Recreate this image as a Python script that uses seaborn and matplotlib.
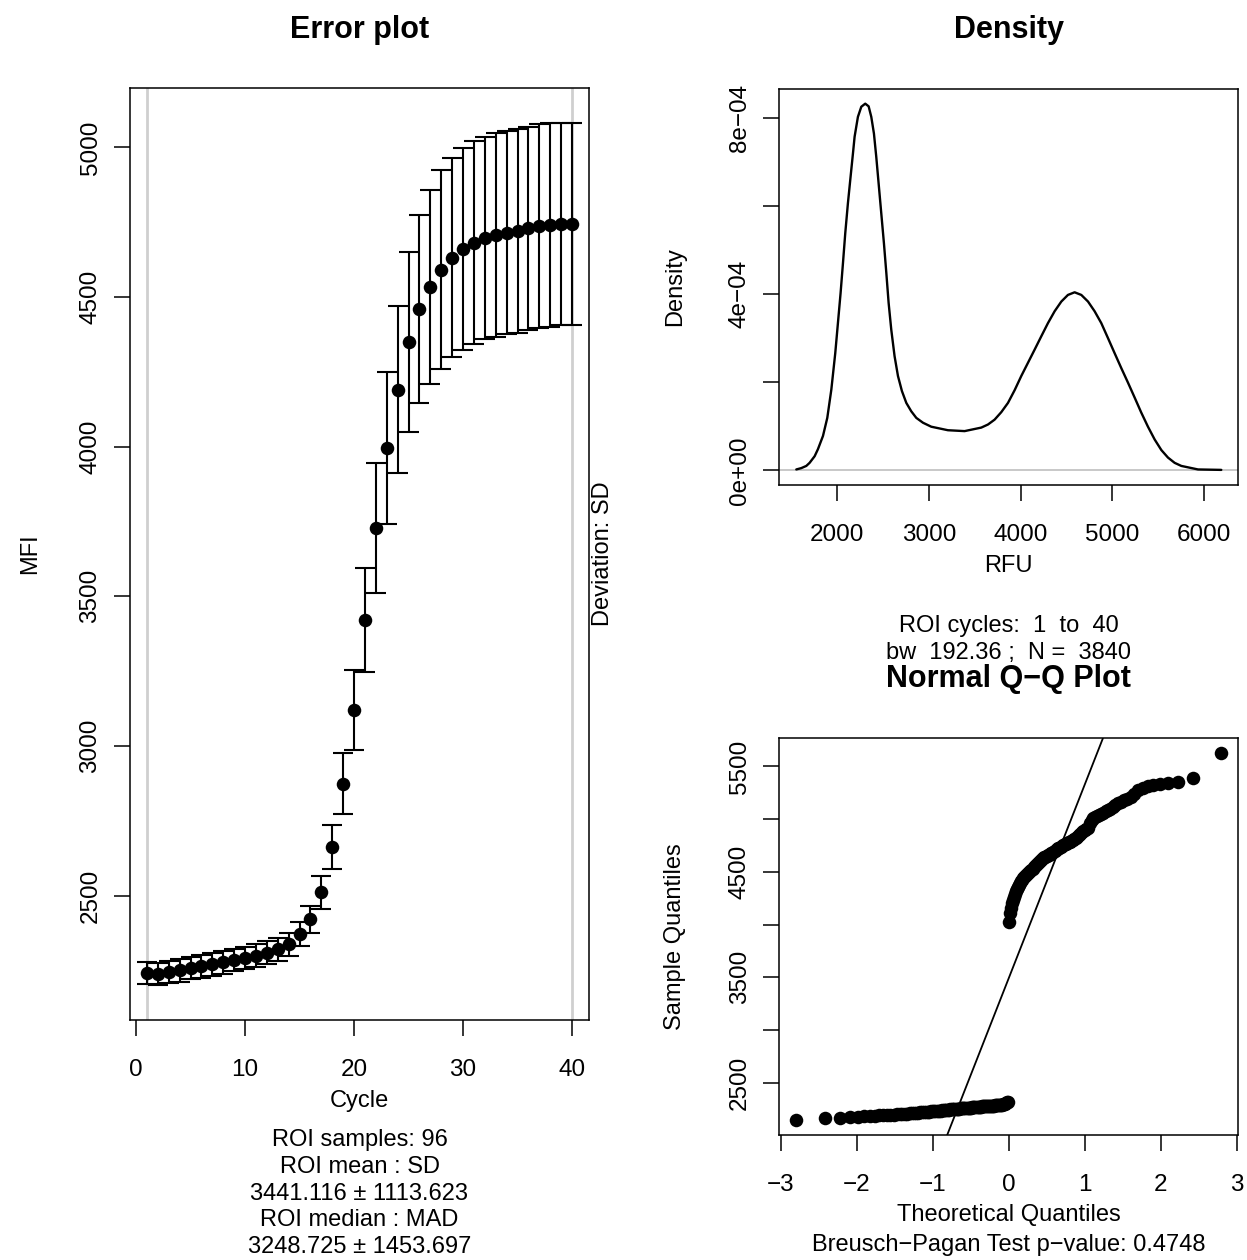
import matplotlib
matplotlib.use("Agg")
import matplotlib.pyplot as plt
import numpy as np
import pandas as pd
import seaborn as sns
from statistics import NormalDist

# ---------------- data ----------------
cycles = list(range(1, 41))
mfi_mean = [2242, 2238, 2245, 2251, 2258, 2264, 2271, 2278, 2285, 2292,
            2300, 2309, 2321, 2338, 2371, 2421, 2512, 2663, 2874, 3120,
            3421, 3727, 3997, 4191, 4349, 4460, 4534, 4591, 4632, 4660,
            4682, 4698, 4708, 4715, 4721, 4730, 4737, 4741, 4744, 4744]
mfi_sd = [38, 38, 38, 38, 38, 38, 38, 38, 38, 38,
          38, 38, 38, 38, 40, 45, 55, 73, 102, 134,
          175, 217, 254, 280, 301, 313, 325, 332, 334, 337,
          338, 337, 340, 339, 340, 339, 341, 341, 339, 339]

density_rfu = [1553, 1607, 1662, 1698, 1753, 1789, 1844, 1891, 1935, 1978,
               2007, 2036, 2062, 2087, 2116, 2145, 2171, 2189, 2225, 2262,
               2305, 2342, 2371, 2400, 2425, 2451, 2480, 2509, 2535, 2560,
               2589, 2625, 2662, 2705, 2753, 2807, 2862, 2935, 3025, 3207,
               3389, 3571, 3644, 3716, 3789, 3862, 3935, 4007, 4080, 4153,
               4225, 4298, 4371, 4444, 4516, 4589, 4662, 4735, 4807, 4880,
               4953, 5025, 5098, 5171, 5244, 5316, 5389, 5462, 5535, 5607,
               5680, 5753, 5935, 6189]
density_val = [0.02e-4, 0.05e-4, 0.10e-4, 0.17e-4, 0.32e-4, 0.48e-4, 0.78e-4, 1.19e-4, 1.83e-4, 2.66e-4,
               3.34e-4, 4.02e-4, 4.70e-4, 5.38e-4, 6.06e-4, 6.66e-4, 7.19e-4, 7.57e-4, 8.02e-4, 8.25e-4,
               8.32e-4, 8.26e-4, 8.02e-4, 7.64e-4, 7.12e-4, 6.51e-4, 5.83e-4, 5.15e-4, 4.48e-4, 3.80e-4,
               3.19e-4, 2.59e-4, 2.14e-4, 1.80e-4, 1.53e-4, 1.34e-4, 1.19e-4, 1.08e-4, 0.99e-4, 0.91e-4,
               0.89e-4, 0.97e-4, 1.04e-4, 1.15e-4, 1.32e-4, 1.53e-4, 1.82e-4, 2.14e-4, 2.44e-4, 2.74e-4,
               3.04e-4, 3.34e-4, 3.61e-4, 3.83e-4, 3.98e-4, 4.04e-4, 3.98e-4, 3.83e-4, 3.61e-4, 3.34e-4,
               3.00e-4, 2.66e-4, 2.32e-4, 1.99e-4, 1.65e-4, 1.31e-4, 0.99e-4, 0.70e-4, 0.46e-4, 0.29e-4,
               0.17e-4, 0.10e-4, 0.02e-4, 0.01e-4]

qq_sample = [2143, 2162, 2169, 2174, 2178, 2181, 2184, 2186, 2189, 2191,
             2193, 2195, 2197, 2199, 2201, 2203, 2205, 2207, 2209, 2211,
             2213, 2215, 2217, 2218, 2220, 2221, 2223, 2224, 2226, 2227,
             2229, 2230, 2232, 2233, 2235, 2236, 2238, 2239, 2241, 2242,
             2244, 2245, 2247, 2248, 2249, 2250, 2251, 2252, 2253, 2254,
             2255, 2256, 2257, 2258, 2259, 2260, 2261, 2262, 2263, 2264,
             2265, 2266, 2267, 2268, 2269, 2270, 2271, 2272, 2273, 2274,
             2275, 2276, 2277, 2278, 2278, 2279, 2280, 2280, 2281, 2282,
             2282, 2283, 2284, 2284, 2285, 2286, 2287, 2288, 2290, 2292,
             2295, 2298, 2302, 2307, 2312, 2318,
             4020, 4110, 4160, 4200, 4235, 4265, 4290, 4315, 4340, 4360,
             4378, 4395, 4410, 4425, 4437, 4448, 4458, 4468, 4478, 4488,
             4500, 4510, 4520, 4530, 4542, 4555, 4567, 4578, 4588, 4596,
             4604, 4612, 4620, 4628, 4636, 4643, 4650, 4656, 4662, 4668,
             4675, 4683, 4690, 4698, 4705, 4713, 4722, 4730, 4738, 4747,
             4753, 4760, 4767, 4773, 4780, 4786, 4793, 4800, 4810, 4820,
             4830, 4845, 4860, 4875, 4890, 4900, 4910, 4920, 4960, 4995,
             5010, 5020, 5030, 5040, 5050, 5062, 5075, 5088, 5100, 5115,
             5130, 5148, 5165, 5180, 5195, 5210, 5240, 5275, 5295, 5310,
             5325, 5335, 5345, 5352, 5390, 5627]

err_xticks = [0, 10, 20, 30, 40]
err_yticks = [2500, 3000, 3500, 4000, 4500, 5000]
dens_xticks = [2000, 3000, 4000, 5000, 6000]
dens_yticks = [0, 2e-4, 4e-4, 6e-4, 8e-4]
dens_ylabels = ["0e+00", "", "4e\u221204", "", "8e\u221204"]
qq_xticks = [-3, -2, -1, 0, 1, 2, 3]
qq_xlabels = ["\u22123", "\u22122", "\u22121", "0", "1", "2", "3"]
qq_yticks = [2500, 3000, 3500, 4000, 4500, 5000, 5500]
qq_ylabels = ["2500", "", "3500", "", "4500", "", "5500"]

left_notes = ["ROI samples: 96", "ROI mean : SD", "3441.116 \u00b1 1113.623",
              "ROI median : MAD", "3248.725 \u00b1 1453.697"]
dens_notes = ["ROI cycles:  1  to  40", "bw  192.36 ;  N =  3840"]
qq_note = "Breusch\u2212Pagan Test p\u2212value: 0.4748"

# ---------------- style ----------------
sns.set_theme(style="ticks")
plt.rcParams["font.family"] = ["Liberation Sans", "DejaVu Sans"]
plt.rcParams["axes.unicode_minus"] = True
plt.rcParams["text.color"] = "black"
plt.rcParams["axes.labelcolor"] = "black"
plt.rcParams["axes.titlecolor"] = "black"
plt.rcParams["xtick.color"] = "black"
plt.rcParams["ytick.color"] = "black"

W, H = 1247, 1260
fig = plt.figure(figsize=(W / 100, H / 100), dpi=100)
fig.patch.set_facecolor("white")

TICK = 17.5
BASE = 17.0
TITLE = 22.0


def r_lim(lo, hi):
    ext = 0.04 * (hi - lo)
    return lo - ext, hi + ext


def px_axes(x0, y0, x1, y1):
    return fig.add_axes([x0 / W, 1 - y1 / H, (x1 - x0) / W, (y1 - y0) / H])


def style_axes(ax):
    ax.set_facecolor("white")
    for s in ax.spines.values():
        s.set_visible(True)
        s.set_color("black")
        s.set_linewidth(1.1)
    ax.tick_params(axis="both", direction="out", length=11.5, width=1.1,
                   colors="black", labelsize=TICK, bottom=True, left=True,
                   top=False, right=False)
    ax.tick_params(axis="x", pad=16.5)
    ax.tick_params(axis="y", pad=9)
    ax.grid(False)


# ---------------- Error plot ----------------
ax1 = px_axes(130, 88, 589, 1020)
style_axes(ax1)
err_df = pd.DataFrame({"Cycle": cycles, "MFI": mfi_mean, "SD": mfi_sd})
ax1.axvline(cycles[0], color="#cfcfcf", lw=2.0, zorder=0)
ax1.axvline(cycles[-1], color="#cfcfcf", lw=2.0, zorder=0)
ax1.errorbar(err_df["Cycle"], err_df["MFI"], yerr=err_df["SD"], fmt="none",
             ecolor="black", elinewidth=1.5, capsize=7.2, capthick=1.5, zorder=2)
sns.scatterplot(data=err_df, x="Cycle", y="MFI", ax=ax1, color="black",
                s=95, linewidth=0, zorder=3)
lo = (err_df["MFI"] - err_df["SD"]).min()
hi = (err_df["MFI"] + err_df["SD"]).max()
ax1.set_ylim(*r_lim(lo, hi))
ax1.set_xlim(*r_lim(min(cycles), max(cycles)))
ax1.set_xticks(err_xticks)
ax1.set_xticklabels([str(t) for t in err_xticks])
ax1.set_yticks(err_yticks)
ax1.set_yticklabels([str(t) for t in err_yticks], rotation=90, va="center")
ax1.set_xlabel("Cycle", fontsize=BASE, va="center", color="black")
ax1.set_ylabel("MFI", fontsize=BASE, va="center", color="black")
ax1.xaxis.set_label_coords(0.5, (1020 - 1100.5) / 932)
ax1.yaxis.set_label_coords((30 - 130) / 459, 0.5)
ax1.set_title("Error plot", fontsize=TITLE, fontweight="bold", va="center",
              y=(1020 - 30) / 932, pad=0, color="black")
for i, line in enumerate(left_notes):
    fig.text(359.5 / W, 1 - (1140 + i * 26.8) / H, line, ha="center",
             va="center", fontsize=BASE, color="black")
fig.text(603 / W, 1 - 554 / H, "Deviation: SD", rotation=90, ha="center",
         va="center", fontsize=BASE, color="black")

# ---------------- Density ----------------
ax2 = px_axes(779.3, 89, 1238.3, 485)
style_axes(ax2)
dens_df = pd.DataFrame({"RFU": density_rfu, "Density": density_val})
ax2.axhline(0, color="#c8c8c8", lw=1.4, zorder=0)
sns.lineplot(data=dens_df, x="RFU", y="Density", ax=ax2, color="black",
             lw=1.7, sort=False, estimator=None)
ax2.set_xlim(*r_lim(min(density_rfu), max(density_rfu)))
ax2.set_ylim(*r_lim(0, max(density_val)))
ax2.set_xticks(dens_xticks)
ax2.set_xticklabels([str(t) for t in dens_xticks])
ax2.set_yticks(dens_yticks)
ax2.set_yticklabels(dens_ylabels, rotation=90, va="center")
ax2.set_xlabel("RFU", fontsize=BASE, va="center", color="black")
ax2.set_ylabel("Density", fontsize=BASE, va="center", color="black")
ax2.xaxis.set_label_coords(0.5, (485 - 565.5) / 396)
ax2.yaxis.set_label_coords((675 - 779.3) / 459, 0.5)
ax2.set_title("Density", fontsize=TITLE, fontweight="bold", va="center",
              y=(485 - 30) / 396, pad=0, color="black")
fig.text(1008.8 / W, 1 - 626 / H, dens_notes[0], ha="center", va="center",
         fontsize=BASE, color="black")
fig.text(1008.8 / W, 1 - 653 / H, dens_notes[1], ha="center", va="center",
         fontsize=BASE, color="black")

# ---------------- Normal Q-Q ----------------
ax3 = px_axes(779.3, 738.3, 1238.3, 1135)
style_axes(ax3)
n = len(qq_sample)
nd = NormalDist()
theo = [nd.inv_cdf((i + 0.5) / n) for i in range(n)]
qq_df = pd.DataFrame({"Theoretical": theo, "Sample": sorted(qq_sample)})
sns.scatterplot(data=qq_df, x="Theoretical", y="Sample", ax=ax3,
                color="black", s=95, linewidth=0, zorder=3)
q1, q3 = np.quantile(qq_df["Sample"], [0.25, 0.75])
z1, z3 = nd.inv_cdf(0.25), nd.inv_cdf(0.75)
slope = (q3 - q1) / (z3 - z1)
intercept = q1 - slope * z1
ax3.axline((0, intercept), slope=slope, color="black", lw=1.3, zorder=2)
ax3.set_xlim(*r_lim(min(theo), max(theo)))
ax3.set_ylim(*r_lim(min(qq_sample), max(qq_sample)))
ax3.set_xticks(qq_xticks)
ax3.set_xticklabels(qq_xlabels)
ax3.set_yticks(qq_yticks)
ax3.set_yticklabels(qq_ylabels, rotation=90, va="center")
ax3.set_xlabel("Theoretical Quantiles", fontsize=BASE, va="center", color="black")
ax3.set_ylabel("Sample Quantiles", fontsize=BASE, va="center", color="black")
ax3.xaxis.set_label_coords(0.5, (1135 - 1215.5) / 396.7)
ax3.yaxis.set_label_coords((675 - 779.3) / 459, 0.5)
ax3.set_title("Normal Q\u2212Q Plot", fontsize=TITLE, fontweight="bold",
              va="center", y=(1135 - 678.5) / 396.7, pad=0, color="black")
fig.text(1008.8 / W, 1 - 1245 / H, qq_note, ha="center", va="center",
         fontsize=BASE, color="black")

fig.savefig("out.png", dpi=100, facecolor="white")
